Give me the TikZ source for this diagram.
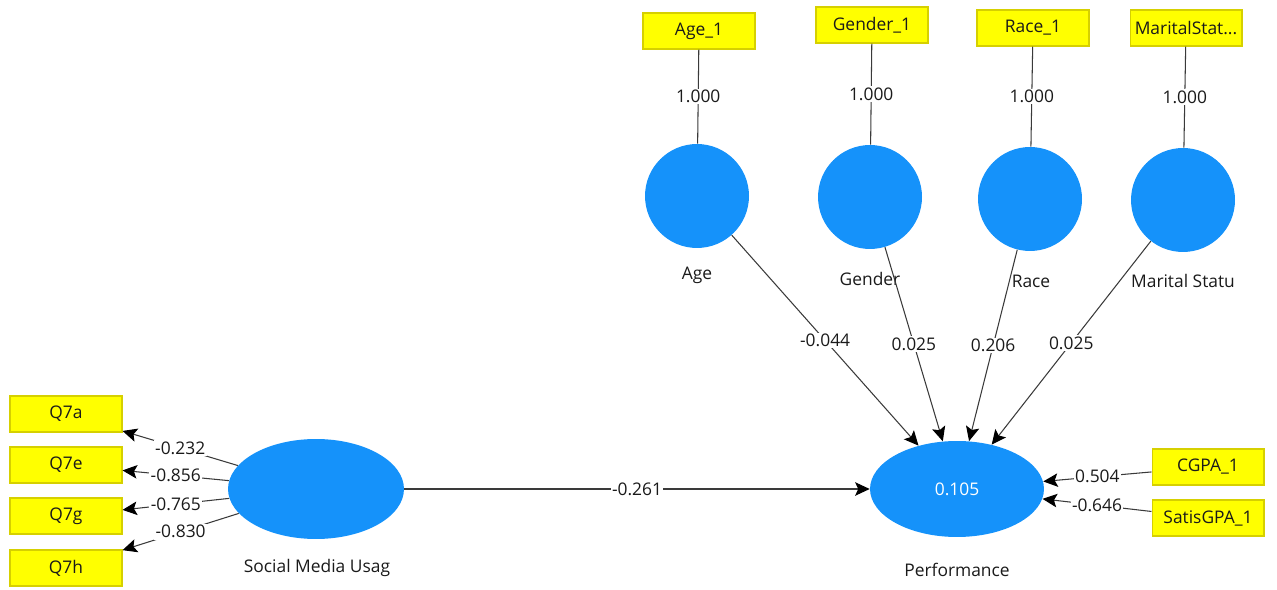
\documentclass[tikz,border=0pt]{standalone}
\usepackage{fontspec}
\setmainfont{Open Sans}
\usetikzlibrary{arrows.meta,shapes.geometric}
\definecolor{lvblue}{HTML}{1592FA}
\definecolor{mvyellow}{HTML}{FFFF00}
\definecolor{mvedge}{HTML}{D6D000}
\definecolor{pathgray}{HTML}{3A3A3A}
\definecolor{txtgray}{HTML}{1A1A1A}

\tikzset{
  lv/.style={ellipse, fill=lvblue, draw=none, inner sep=0pt},
  mvbox/.style={rectangle, fill=mvyellow, draw=mvedge, line width=0.6pt,
    minimum width=2.24cm, minimum height=0.72cm, inner sep=0pt, text=txtgray},
  lvname/.style={text=txtgray},
  coef/.style={fill=white, inner sep=0.8pt, text=txtgray},
  link/.style={draw=pathgray, line width=0.6pt},
  arr/.style={link, -{Stealth[length=2.9mm,width=2.7mm,inset=0.6mm,color=black]}},
}

\begin{document}
\begin{tikzpicture}[x=0.02cm, y=-0.02cm, font=\fontsize{9.9pt}{11pt}\selectfont]
       \useasboundingbox (0,0) rectangle (1277,590);

       % latent variables
       \node[lv, minimum width=3.52cm, minimum height=2cm] (smu) at (316,489) {};
       \node[lv, minimum width=3.48cm, minimum height=1.92cm, text=white] (perf) at (957,489) {0.105};
       \node[lv, circle, minimum size=2.08cm] (age) at (697,196) {};
       \node[lv, circle, minimum size=2.08cm] (gender) at (870,197) {};
       \node[lv, circle, minimum size=2.08cm] (race) at (1030,199) {};
       \node[lv, circle, minimum size=2.08cm] (marital) at (1183,200) {};

       \node[lvname] (smulbl) at (317,568) {Social Media Usag};
       \node[lvname] (perflbl) at (957,570) {Performance};
       \node[lvname] (agelbl) at (697,275) {Age};
       \node[lvname] (genderlbl) at (870,279) {Gender};
       \node[lvname] (racelbl) at (1031,281) {Race};
       \node[lvname] (maritallbl) at (1183,281) {Marital Statu};

       % indicators
       \foreach \n/\y in {a/414,e/465,g/516,h/568}  {
       	\node[mvbox] (q7\n) at (66,\y) {Q7\n};
       }
       \node[mvbox] (cgpa) at (1208,467) {CGPA\_1};
       \node[mvbox] (satis) at (1208,518) {SatisGPA\_1};
       \node[mvbox] (age1) at (699,31) {Age\_1};
       \node[mvbox] (gender1) at (872,25) {Gender\_1};
       \node[mvbox] (race1) at (1033,28) {Race\_1};
       \node[mvbox] (marital1) at (1186,28) {MaritalStat...};

       % outer loadings
       \foreach \n/\c in {a/-0.232,e/-0.856,g/-0.765,h/-0.830}  {
       	\draw[arr] (smu) -- node[coef]{\c} (q7\n);
       }
       \draw[arr] (cgpa) -- node[coef]{0.504} (perf);
       \draw[arr] (satis) -- node[coef]{-0.646} (perf);
       \foreach \v in {age,gender,race,marital}  {
       	\draw[link] (\v1) -- node[coef]{1.000} (\v);
       }

       % structural paths
       \draw[arr] (smu) -- node[coef]{-0.261} (perf);
       \draw[arr] (age) -- node[coef]{-0.044} (perf);
       \draw[arr] (gender) -- node[coef]{0.025} (perf);
       \draw[arr] (race) -- node[coef]{0.206} (perf);
       \draw[arr] (marital) -- node[coef]{0.025} (perf);

\end{tikzpicture}
\end{document}
